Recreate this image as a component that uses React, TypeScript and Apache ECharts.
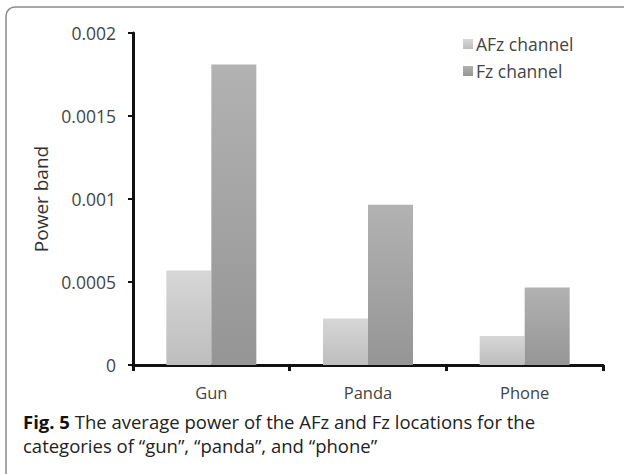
import React, { useEffect, useRef } from "react";
import * as echarts from "echarts";

const categories = ["Gun", "Panda", "Phone"];
const afzValues = [0.00057, 0.00028, 0.000175];
const fzValues = [0.00181, 0.000965, 0.000467];
const yTickLabels = ["0", "0.0005", "0.001", "0.0015", "0.002"];
const seriesNames = ["AFz channel", "Fz channel"];
const yAxisTitle = "Power band";
const captionBold = "Fig. 5";
const captionLine1 = " The average power of the AFz and Fz locations for the";
const captionLine2 = "categories of \u201cgun\u201d, \u201cpanda\u201d, and \u201cphone\u201d";

const FONT = "Open Sans";

export default function App() {
  const ref = useRef<HTMLDivElement>(null);
  useEffect(() => {
    if (!ref.current) return;
    const chart = echarts.init(ref.current, null, { renderer: "svg" });
    const grad = (top: string, bottom: string) =>
      new echarts.graphic.LinearGradient(0, 0, 0, 1, [
        { offset: 0, color: top },
        { offset: 1, color: bottom },
      ]);
    chart.setOption({
      animation: false,
      backgroundColor: "#fff",
      textStyle: { fontFamily: FONT },
      grid: { left: 133, right: 21, top: 33, bottom: 109, containLabel: false },
      legend: {
        data: seriesNames,
        orient: "vertical",
        left: 458,
        top: 30,
        icon: "rect",
        itemWidth: 10,
        itemHeight: 10,
        itemGap: 9,
        textStyle: { fontSize: 17.5, color: "#444", fontFamily: FONT, padding: [0, 0, 0, -2] },
      },
      xAxis: {
        type: "category",
        data: categories,
        axisLine: { lineStyle: { color: "#111", width: 3 } },
        axisTick: { show: true, length: 6, lineStyle: { color: "#111", width: 3 }, alignWithLabel: false },
        axisLabel: { fontSize: 16.5, color: "#444", margin: 19, fontFamily: FONT },
      },
      yAxis: {
        type: "value",
        min: 0,
        max: 0.002,
        interval: 0.0005,
        name: yAxisTitle,
        nameLocation: "middle",
        nameGap: 82,
        nameRotate: 90,
        nameTextStyle: { fontSize: 19, color: "#333", fontFamily: FONT },
        splitLine: { show: false },
        axisLine: { show: true, lineStyle: { color: "#111", width: 3 } },
        axisTick: { show: true, length: 5, lineStyle: { color: "#111", width: 2 } },
        axisLabel: {
          fontSize: 17.5,
          color: "#444",
          margin: 17,
          fontFamily: FONT,
          formatter: (_v: number, i: number) => yTickLabels[i],
        },
      },
      series: [
        {
          name: seriesNames[0],
          type: "bar",
          data: afzValues,
          barWidth: 45,
          barGap: "0%",
          itemStyle: { color: grad("#d6d7d6", "#bdbdbd") },
        },
        {
          name: seriesNames[1],
          type: "bar",
          data: fzValues,
          barWidth: 45,
          barGap: "0%",
          itemStyle: { color: grad("#b2b2b2", "#959595") },
        },
      ],
      graphic: [
        {
          type: "rect",
          shape: { x: 6, y: 7, width: 700, height: 600, r: 9 },
          style: { fill: "none", stroke: "#8a8a8a", lineWidth: 1.5 },
          silent: true,
        },
        {
          type: "text",
          left: 23,
          top: 412,
          style: {
            text: "{b|" + captionBold + "}{n|" + captionLine1 + "}",
            rich: {
              b: { fontSize: 18.5, fontWeight: "bold", fill: "#111", fontFamily: FONT },
              n: { fontSize: 18.5, fill: "#222", fontFamily: FONT },
            },
          },
        },
        {
          type: "text",
          left: 23,
          top: 436,
          style: { text: captionLine2, fontSize: 18.5, fill: "#222", fontFamily: FONT },
        },
      ],
    });
    return () => chart.dispose();
  }, []);
  return (
    <div
      ref={ref}
      style={{ position: "fixed", left: 0, top: 0, width: 624, height: 474 }}
    />
  );
}
